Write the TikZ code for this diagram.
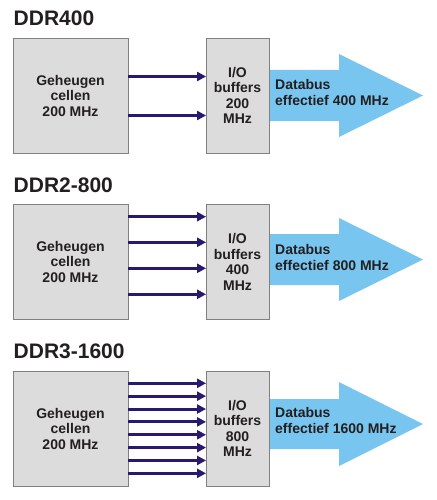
\documentclass[tikz,border=0pt]{standalone}
\usepackage{fontspec}
\setmainfont{Liberation Sans}
\usetikzlibrary{arrows.meta}
\definecolor{txt}{HTML}{231F20}
\definecolor{boxfill}{HTML}{DCDCDC}
\definecolor{boxline}{HTML}{808080}
\definecolor{navy}{RGB}{40,24,112}
\definecolor{sky}{HTML}{78C6F0}
\tikzset{
  title/.style={anchor=base west, inner sep=0pt, text=txt, font=\bfseries\fontsize{21}{25}\selectfont},
  cellbox/.style={draw=boxline, fill=boxfill, line width=0.9pt, minimum width=115pt, minimum height=115pt, inner sep=0pt, align=center, text=txt, font=\bfseries\fontsize{14}{15.5}\selectfont},
  iobox/.style={cellbox, minimum width=63pt},
  link/.style={draw=navy, line width=3pt, -{Triangle[length=9pt,width=9pt]}, shorten >=-0.5pt},
  bigarrow/.style={fill=sky},
  bustext/.style={anchor=west, inner sep=0pt, align=left, text=txt, font=\bfseries\fontsize{14}{15.5}\selectfont}
}
\begin{document}
\begin{tikzpicture}[x=1pt,y=-1pt]
\useasboundingbox (0,0) rectangle (436,500);
\fill[white] (0,0) rectangle (436,500);

% ---------- DDR400 ----------
\node[title] (t1) at (13.5,26) {DDR400};
\fill[bigarrow] (269,70) -- (339,70) -- (339,54) -- (423,95.5) -- (339,137) -- (339,121) -- (269,121) -- cycle;
\node[cellbox] (c1) at (70.5,95.5) {Geheugen\\cellen\\200 MHz};
\node[iobox] (io1) at (237.5,95.5) {I/O\\buffers\\200\\MHz};
\node[bustext] (d1) at (275,92.5) {Databus\\effectief 400 MHz};
\foreach \y in {76.5,115.5}{
  \draw[link] (c1.east |- 0,\y) -- (io1.west |- 0,\y);
}

% ---------- DDR2-800 ----------
\node[title] (t2) at (13.5,192) {DDR2-800};
\fill[bigarrow] (269,234) -- (339,234) -- (339,218) -- (423,259.5) -- (339,301) -- (339,285) -- (269,285) -- cycle;
\node[cellbox] (c2) at (70.5,261.8) {Geheugen\\cellen\\200 MHz};
\node[iobox] (io2) at (237.5,261.8) {I/O\\buffers\\400\\MHz};
\node[bustext] (d2) at (275,257.5) {Databus\\effectief 800 MHz};
\foreach \y in {216.7,242.3,268.3,294.3}{
  \draw[link] (c2.east |- 0,\y) -- (io2.west |- 0,\y);
}

% ---------- DDR3-1600 ----------
\node[title] (t3) at (13.5,358) {DDR3-1600};
\fill[bigarrow] (269,399) -- (339,399) -- (339,382) -- (423,424) -- (339,466) -- (339,449) -- (269,449) -- cycle;
\node[cellbox] (c3) at (70.5,428.5) {Geheugen\\cellen\\200 MHz};
\node[iobox] (io3) at (237.5,428.5) {I/O\\buffers\\800\\MHz};
\node[bustext] (d3) at (275,420.5) {Databus\\effectief 1600 MHz};
\foreach \k in {0,...,7}{
  \pgfmathsetmacro{\yy}{383.3+12.86*\k}
  \draw[link] (c3.east |- 0,\yy) -- (io3.west |- 0,\yy);
}
\end{tikzpicture}
\end{document}
